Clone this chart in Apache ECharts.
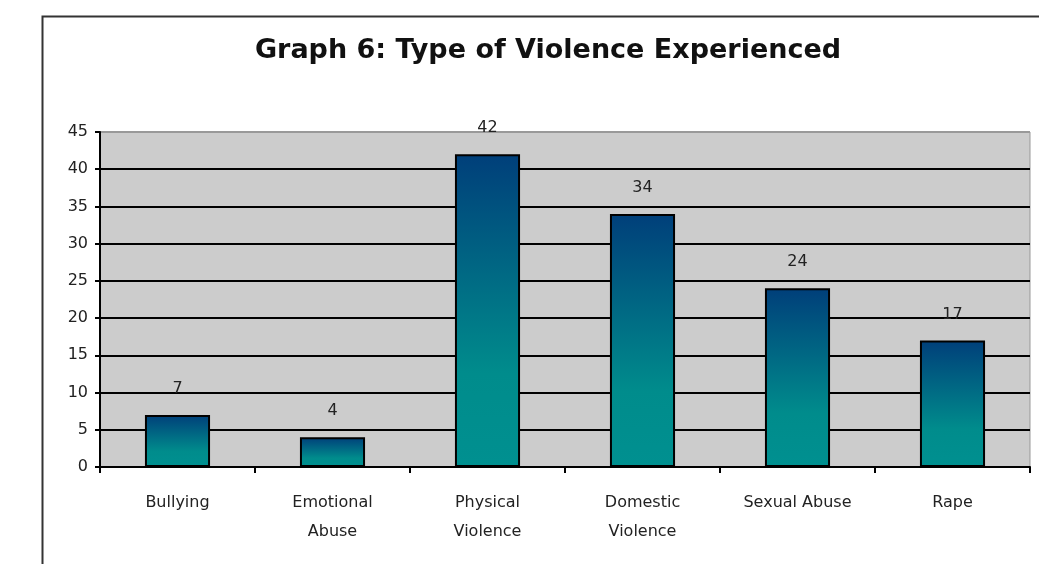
<!DOCTYPE html>
<html>
<head>
<meta charset="utf-8">
<script src="https://cdn.jsdelivr.net/npm/echarts@6/dist/echarts.min.js"></script>
<style>
html,body{margin:0;padding:0;background:#fff;}
#chart{width:1039px;height:564px;}
</style>
</head>
<body>
<div id="chart"></div>
<script>
const titleText = 'Graph 6: Type of Violence Experienced';
const categories = ['Bullying', 'Emotional\nAbuse', 'Physical\nViolence', 'Domestic\nViolence', 'Sexual Abuse', 'Rape'];
const values = [7, 4, 42, 34, 24, 17];
const yMin = 0, yMax = 45, yStep = 5;

const chart = echarts.init(document.getElementById('chart'), null, {renderer: 'canvas'});
const font = '"DejaVu Sans", "Liberation Sans", Arial, sans-serif';
const gridColors = [];
for (let v = yMin; v <= yMax; v += yStep) gridColors.push(v === yMax ? '#999999' : '#000000');

chart.setOption({
  animation: false,
  backgroundColor: '#ffffff',
  title: {
    text: titleText,
    left: 543, top: 32, textAlign: 'center',
    textStyle: {fontFamily: font, fontSize: 27, fontWeight: 'bold', color: '#111'}
  },
  graphic: [{
    type: 'rect', left: 40, top: 14, silent: true,
    shape: {width: 1100, height: 700},
    style: {fill: 'none', stroke: '#333', lineWidth: 2}
  }],
  grid: {
    left: 100, right: 9, top: 132, bottom: 97,
    show: true, backgroundColor: '#cccccc', borderColor: '#999999', borderWidth: 1
  },
  xAxis: {
    type: 'category', data: categories,
    axisLine: {show: true, lineStyle: {color: '#000', width: 2}},
    axisTick: {show: true, alignWithLabel: false, length: 6, lineStyle: {color: '#000', width: 2}},
    axisLabel: {fontFamily: font, fontSize: 16, color: '#222', margin: 21, lineHeight: 29, interval: 0}
  },
  yAxis: {
    type: 'value', min: yMin, max: yMax, interval: yStep,
    axisLine: {show: true, lineStyle: {color: '#000', width: 2}},
    axisTick: {show: true, length: 5, lineStyle: {color: '#000', width: 2}},
    axisLabel: {fontFamily: font, fontSize: 16, color: '#222', margin: 12},
    splitLine: {show: true, lineStyle: {color: gridColors, width: 2}}
  },
  series: [{
    type: 'bar', data: values, barWidth: '42%',
    itemStyle: {
      borderColor: '#000', borderWidth: 2,
      color: {
        type: 'linear', x: 0, y: 0, x2: 0, y2: 1,
        colorStops: [
          {offset: 0, color: '#003f7a'},
          {offset: 0.7, color: '#008c8c'},
          {offset: 1, color: '#009090'}
        ]
      }
    },
    label: {show: true, position: 'top', distance: 18, fontFamily: font, fontSize: 16, color: '#222'}
  }]
});
</script>
</body>
</html>
